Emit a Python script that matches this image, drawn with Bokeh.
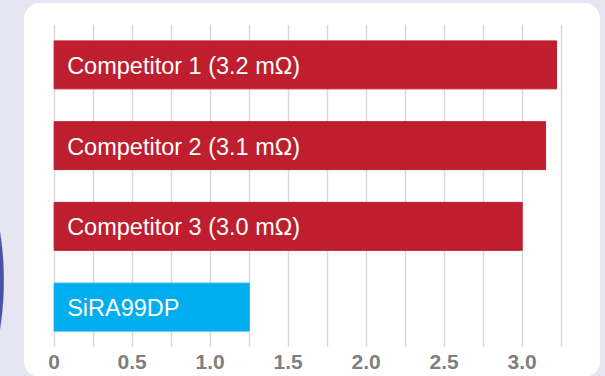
from bokeh.plotting import figure
from bokeh.layouts import column
from bokeh.models import ColumnDataSource, FixedTicker, FactorRange, Range1d
from bokeh.core.properties import value
from bokeh.embed import file_html
from bokeh.resources import INLINE

# Data
categories = ["Competitor 1", "Competitor 2", "Competitor 3", "SiRA99DP"]
labels = ["Competitor 1 (3.2 mΩ)", "Competitor 2 (3.1 mΩ)", "Competitor 3 (3.0 mΩ)", "SiRA99DP"]
resistance = [3.22, 3.15, 3.0, 1.25]
colors = ["#be1e2d", "#be1e2d", "#be1e2d", "#00aeef"]
axis_ticks = [0, 0.5, 1.0, 1.5, 2.0, 2.5, 3.0]
axis_tick_labels = ["0", "0.5", "1.0", "1.5", "2.0", "2.5", "3.0"]
grid_ticks = [0, 0.25, 0.5, 0.75, 1.0, 1.25, 1.5, 1.75, 2.0, 2.25, 2.5, 2.75, 3.0, 3.25]

LAVENDER = "#e6e6f2"
ARC = "#4a52a6"

src = ColumnDataSource(dict(cat=categories, val=resistance, color=colors,
                            label=labels, zero=[0] * len(categories)))

p = figure(width=576, height=374, output_backend="svg", toolbar_location=None,
           y_range=FactorRange(factors=list(reversed(categories)), range_padding=0),
           x_range=Range1d(-0.19, 3.502),
           min_border_left=0, min_border_right=0, min_border_top=21, min_border_bottom=30,
           margin=(3, 5, 0, 24),
           styles={"border-radius": "16px", "overflow": "hidden",
                   "background-color": "white"})

p.border_fill_color = "white"
p.background_fill_color = "white"
p.outline_line_color = None

p.hbar(y="cat", left="zero", right="val", height=0.594, color="color", source=src)

p.text(x="zero", y="cat", text="label", source=src, x_offset=13, y_offset=1,
       text_font=value("Liberation Sans"), text_font_size="23.5px",
       text_color="white", text_baseline="middle", text_align="left")

p.yaxis.visible = False
p.ygrid.visible = False

p.xgrid.ticker = FixedTicker(ticks=grid_ticks)
p.xgrid.grid_line_color = "#d9d9d9"
p.xgrid.grid_line_width = 1.5

xa = p.xaxis[0]
xa.ticker = FixedTicker(ticks=axis_ticks)
xa.major_label_overrides = {t: l for t, l in zip(axis_ticks, axis_tick_labels)}
xa.axis_line_color = None
xa.major_tick_line_color = None
xa.minor_tick_line_color = None
xa.major_label_standoff = 1
xa.major_label_text_font = "Liberation Sans"
xa.major_label_text_font_style = "bold"
xa.major_label_text_font_size = "21px"
xa.major_label_text_color = "#808080"

page = column(p, width=605, height=376,
              styles={"background": f"radial-gradient(circle 308px at -303.5px 280.5px, {ARC} 99.6%, {LAVENDER} 100%)",
                      "overflow": "hidden"})

open("out.html", "w").write(file_html(page, INLINE))
